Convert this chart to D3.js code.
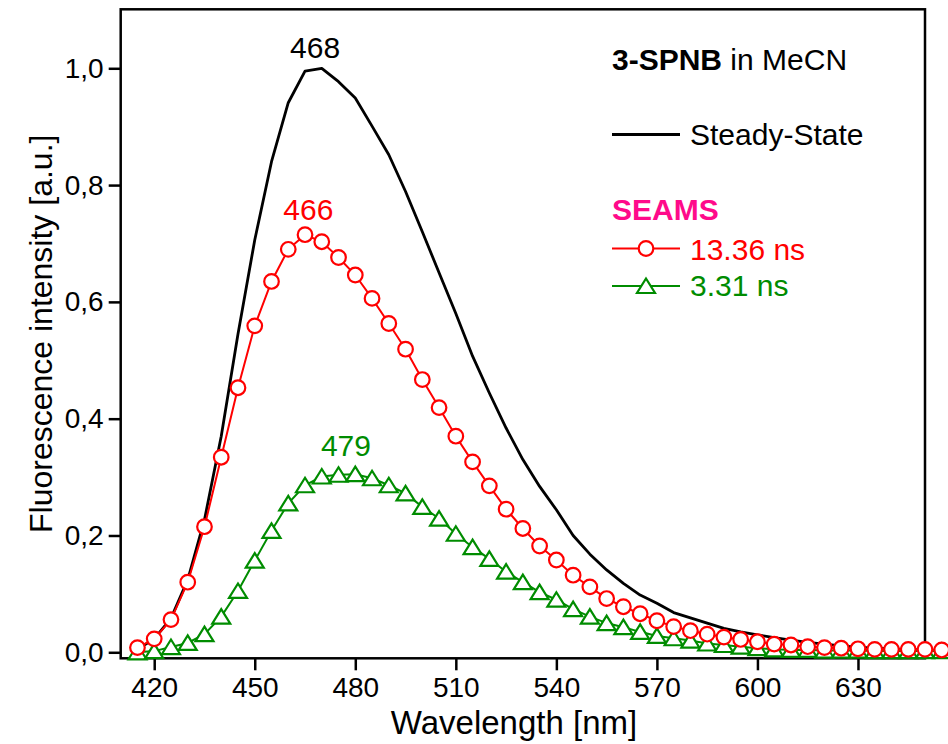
<!DOCTYPE html>
<html>
<head>
<meta charset="utf-8">
<script src="https://cdn.jsdelivr.net/npm/d3@7"></script>
<style>
  html, body { margin: 0; padding: 0; background: #fff; }
  svg { display: block; font-family: "Liberation Sans", Arial, sans-serif; }
</style>
</head>
<body>
<svg id="chart" width="948" height="744"></svg>
<script>
// emission wavelengths [nm], 5 nm steps
const wavelengths = [415, 420, 425, 430, 435, 440, 445, 450, 455, 460, 465, 470, 475, 480, 485, 490,
  495, 500, 505, 510, 515, 520, 525, 530, 535, 540, 545, 550, 555, 560, 565, 570, 575, 580, 585,
  590, 595, 600, 605, 610, 615, 620, 625, 630, 635, 640, 645, 650, 655];

// steady-state spectrum (stops at 650)
const steadyState = [0.005, 0.023, 0.058, 0.124, 0.227, 0.37, 0.545, 0.706, 0.840, 0.941, 0.995, 1.0,
  0.977, 0.949, 0.901, 0.852, 0.789, 0.720, 0.650, 0.580, 0.507, 0.444, 0.384, 0.330, 0.284, 0.244,
  0.200, 0.168, 0.141, 0.118, 0.098, 0.084, 0.068, 0.059, 0.050, 0.041, 0.035, 0.030, 0.025, 0.021,
  0.017, 0.014, 0.011, 0.009, 0.007, 0.006, 0.005, 0.004];

// SEAMS 13.36 ns
const seams1336 = [0.008, 0.023, 0.056, 0.120, 0.215, 0.334, 0.453, 0.559, 0.635, 0.690, 0.715, 0.703,
  0.676, 0.646, 0.606, 0.563, 0.519, 0.467, 0.419, 0.370, 0.326, 0.285, 0.245, 0.212, 0.182, 0.158,
  0.132, 0.112, 0.092, 0.078, 0.066, 0.054, 0.044, 0.037, 0.031, 0.026, 0.022, 0.018, 0.014, 0.0125,
  0.0096, 0.008, 0.007, 0.006, 0.005, 0.005, 0.005, 0.005, 0.004];

// SEAMS 3.31 ns
const seams331 = [0.000, 0.002, 0.009, 0.016, 0.031, 0.061, 0.105, 0.157, 0.208, 0.255, 0.286, 0.301,
  0.304, 0.305, 0.298, 0.286, 0.272, 0.249, 0.229, 0.203, 0.180, 0.160, 0.138, 0.120, 0.103, 0.090,
  0.074, 0.061, 0.050, 0.043, 0.035, 0.028, 0.024, 0.020, 0.015, 0.0125, 0.0096, 0.007, 0.005, 0.004,
  0.004, 0.003, 0.003, 0.003, 0.002, 0.002, 0.002, 0.002, 0.002];

const xMajorTicks = [420, 450, 480, 510, 540, 570, 600, 630];
const xMinorTicks = [435, 465, 495, 525, 555, 585, 615, 645];
const yMajorTicks = [0, 0.2, 0.4, 0.6, 0.8, 1.0];
const yMinorTicks = [0.1, 0.3, 0.5, 0.7, 0.9];

// peak maxima, labelled above each curve
const peakWl = [468, 466, 479];
const peakVal = [1.0, 0.715, 0.305];
const peakText = ['468', '466', '479'];

const RED = '#ff0000';
const GREEN = '#008c00';
const PINK = '#ff0a8a';
const peakColor = ['#000', RED, GREEN];
const peakOffset = [[0, -10], [0, -15], [-6, -18]];

const svg = d3.select('#chart');
const plot = { left: 120.7, right: 925, top: 9.3, bottom: 658.3 };

const x = d3.scaleLinear().domain([410, 650]).range([plot.left, plot.right]);
const y = d3.scaleLinear().domain([-0.0103, 1.101]).range([plot.bottom, plot.top]);

const fmtY = v => d3.format('.1f')(v).replace('.', ',');

// axes
const gx = svg.append('g').attr('transform', `translate(0,${plot.bottom})`);
gx.call(d3.axisBottom(x).tickValues(xMinorTicks).tickSize(7).tickFormat(''));
gx.call(d3.axisBottom(x).tickValues(xMajorTicks).tickSize(12).tickPadding(7));

const gy = svg.append('g').attr('transform', `translate(${plot.left},0)`);
gy.call(d3.axisLeft(y).tickValues(yMinorTicks).tickSize(7).tickFormat(''));
gy.call(d3.axisLeft(y).tickValues(yMajorTicks).tickSize(12).tickPadding(5).tickFormat(fmtY));

svg.selectAll('.domain').remove();
svg.selectAll('.tick line').attr('stroke', '#000').attr('stroke-width', 2.5);
svg.selectAll('.tick text')
  .attr('fill', '#000')
  .style('font-size', '28px')
  .style('font-family', '"Liberation Sans", Arial, sans-serif');

// frame
svg.append('rect')
  .attr('x', plot.left).attr('y', plot.top)
  .attr('width', plot.right - plot.left).attr('height', plot.bottom - plot.top)
  .attr('fill', 'none').attr('stroke', '#000').attr('stroke-width', 2.5);

// axis titles
svg.append('text')
  .attr('x', 514).attr('y', 734)
  .attr('text-anchor', 'middle')
  .style('font-size', '33px')
  .text('Wavelength [nm]');

svg.append('text')
  .attr('transform', `translate(52,${(plot.top + plot.bottom) / 2}) rotate(-90)`)
  .attr('text-anchor', 'middle')
  .style('font-size', '32px')
  .text('Fluorescence intensity [a.u.]');

const line = d3.line().x(d => x(d[0])).y(d => y(d[1]));

// steady-state
svg.append('path')
  .datum(steadyState.map((v, i) => [wavelengths[i], v]))
  .attr('d', line)
  .attr('fill', 'none').attr('stroke', '#000').attr('stroke-width', 2.8)
  .attr('stroke-linejoin', 'round');

// triangle symbol, centred on its bounding box like Origin does
const triangle = (cx, cy) => `M${cx},${cy - 7.5}L${cx + 9},${cy + 7}L${cx - 9},${cy + 7}Z`;

// 3.31 ns
const greenPts = seams331.map((v, i) => [wavelengths[i], v]);
svg.append('path')
  .datum(greenPts)
  .attr('d', line)
  .attr('fill', 'none').attr('stroke', GREEN).attr('stroke-width', 2);
svg.append('g').selectAll('path')
  .data(greenPts)
  .enter()
  .append('path')
  .attr('d', d => triangle(x(d[0]), y(d[1])))
  .attr('fill', '#fff').attr('stroke', GREEN).attr('stroke-width', 2.2);

// 13.36 ns
const redPts = seams1336.map((v, i) => [wavelengths[i], v]);
svg.append('path')
  .datum(redPts)
  .attr('d', line)
  .attr('fill', 'none').attr('stroke', RED).attr('stroke-width', 2);
svg.append('g').selectAll('circle')
  .data(redPts)
  .enter()
  .append('circle')
  .attr('cx', d => x(d[0]))
  .attr('cy', d => y(d[1]))
  .attr('r', 7.3)
  .attr('fill', '#fff').attr('stroke', RED).attr('stroke-width', 2.2);

// peak annotations
svg.append('g').selectAll('text')
  .data(peakWl)
  .enter()
  .append('text')
  .attr('x', (d, i) => x(d) + peakOffset[i][0])
  .attr('y', (d, i) => y(peakVal[i]) + peakOffset[i][1])
  .attr('text-anchor', 'middle')
  .attr('fill', (d, i) => peakColor[i])
  .style('font-size', '30px')
  .text((d, i) => peakText[i]);

// legend
const lg = svg.append('g').style('font-size', '30px');
const title = lg.append('text').attr('x', 612).attr('y', 70);
title.append('tspan').style('font-weight', 'bold').text('3-SPNB');
title.append('tspan').text(' in MeCN');

lg.append('line').attr('x1', 612).attr('x2', 680).attr('y1', 134.5).attr('y2', 134.5)
  .attr('stroke', '#000').attr('stroke-width', 2.8);
lg.append('text').attr('x', 690).attr('y', 145).text('Steady-State');

lg.append('text').attr('x', 612).attr('y', 220).attr('fill', PINK)
  .style('font-weight', 'bold').text('SEAMS');

lg.append('line').attr('x1', 612).attr('x2', 680).attr('y1', 248.5).attr('y2', 248.5)
  .attr('stroke', RED).attr('stroke-width', 2);
lg.append('circle').attr('cx', 646).attr('cy', 248.5).attr('r', 7.3)
  .attr('fill', '#fff').attr('stroke', RED).attr('stroke-width', 2.2);
lg.append('text').attr('x', 690).attr('y', 259.5).attr('fill', RED).text('13.36 ns');

lg.append('line').attr('x1', 612).attr('x2', 680).attr('y1', 286).attr('y2', 286)
  .attr('stroke', GREEN).attr('stroke-width', 2);
lg.append('path').attr('d', triangle(646, 286))
  .attr('fill', '#fff').attr('stroke', GREEN).attr('stroke-width', 2.2);
lg.append('text').attr('x', 690).attr('y', 295.5).attr('fill', GREEN).text('3.31 ns');
</script>
</body>
</html>
